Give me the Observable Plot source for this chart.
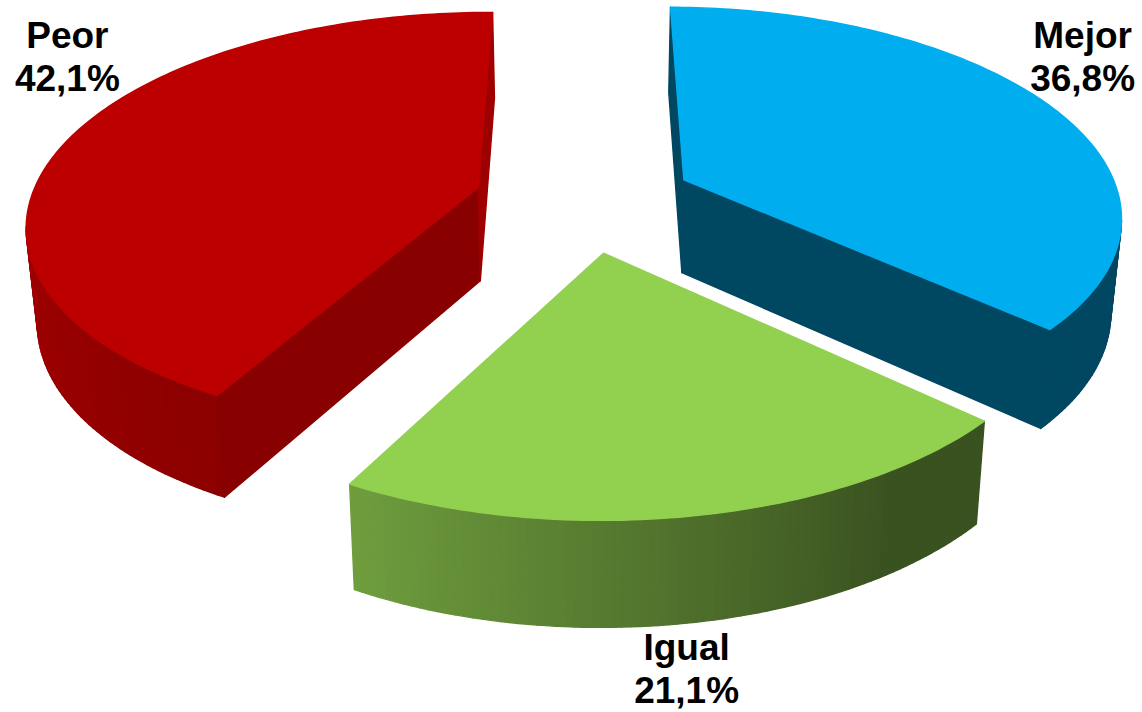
<!DOCTYPE html>
<html><head><meta charset="utf-8">
<style>html,body{margin:0;padding:0;background:#fff}svg{display:block;overflow:visible}</style>
<script src="https://cdn.jsdelivr.net/npm/d3@7"></script>
<script src="https://cdn.jsdelivr.net/npm/@observablehq/plot@0.6"></script>
</head><body><div id="chart"></div>
<script>
// data, clockwise from 12 o'clock
const categories = ["Mejor", "Igual", "Peor"];
const shares = [36.8, 21.1, 42.1];
const percentLabels = ["36,8%", "21,1%", "42,1%"];
// colours
const topColors = ["#00AEEF", "#92D050", "#BC0000"];
const sideColors = ["#004762", "#000000", "#890000"];
const rimFrom = ["#004762", "#3A5220", "#8B0000"];
const rimTo = ["#004762", "#6F9E3E", "#9E0000"];
const rimReach = [1, 0.8, 0.3];
// label anchors in projected pie units
const labelX = [1.127, 0.231, -1.17];
const labelY = [0.7, -2.268, 0.7];

// perspective model of the tilted exploded pie
const perspectiveV = 0.158, perspectiveX = 0.0087, explode = 0.25, bottomShrink = 0.98;
const toRad = (d) => (d * Math.PI) / 180;
const top3d = (deg, r, mid) => {
  const X = r * Math.sin(toRad(deg)) + explode * Math.sin(toRad(mid));
  const V = r * Math.cos(toRad(deg)) + explode * Math.cos(toRad(mid));
  const w = 1 + perspectiveV * V + perspectiveX * X;
  return [X / w, V / w];
};
const drop = ([x, y]) => [x * bottomShrink, y - (0.4534 - 0.042 * y)];

const polys = [];
const addPoly = (id, pts, color) => pts.forEach(([x, y]) => polys.push({id, x, y, color}));
let start = 0;
shares.forEach((share, i) => {
  const sweep = (share / d3.sum(shares)) * 360;
  const end = start + sweep, mid = start + sweep / 2;
  const steps = Math.round(sweep);
  const rim = d3.range(steps + 1).map((k) => top3d(start + (sweep * k) / steps, 1, mid));
  const tip = top3d(0, 0, mid);
  const outline = [tip, ...rim];
  const ramp = d3.interpolateRgb(rimFrom[i], rimTo[i]);
  const wall = (a, b, key, color) => {
    if (b[0] < a[0]) addPoly(key, [a, b, drop(b), drop(a)], color);
  };
  for (let k = 0; k < steps; k++) {
    const f = (k + 0.5) / steps;
    const u = i === 1 ? 1 - Math.min(1, (1 - f) / rimReach[i]) : Math.min(1, f / rimReach[i]);
    wall(rim[k], rim[k + 1], `${i}-r${k}`, ramp(u));
  }
  wall(tip, rim[0], `${i}-a`, sideColors[i]);
  wall(rim[steps], tip, `${i}-b`, i === 2 ? rimTo[2] : sideColors[i]);
  addPoly(`${i}-top`, outline, topColors[i]);
  start = end;
});

const labels = categories.map((c, i) => ({text: `${c}\n${percentLabels[i]}`, x: labelX[i], y: labelY[i]}));

const chart = Plot.plot({
  width: 1142, height: 712, margin: 0,
  x: {domain: [-584 / 442, (1142 - 584) / 442], range: [0, 1142], axis: null},
  y: {domain: [199.8 / 206.3, (199.8 - 712) / 206.3], range: [0, 712], axis: null},
  color: {type: "identity"},
  style: {background: "#fff"},
  marks: [
    Plot.line(polys, {x: "x", y: "y", z: "id", fill: "color", stroke: "color", strokeWidth: 1.4, strokeLinejoin: "round", curve: "linear-closed"}),
    Plot.text(labels, {x: "x", y: "y", text: "text", fontFamily: "Liberation Sans", fontWeight: "bold", fontSize: 37, lineHeight: 1.16, fill: "#000", textAnchor: "middle"})
  ]
});
document.getElementById("chart").append(chart);
</script></body></html>
